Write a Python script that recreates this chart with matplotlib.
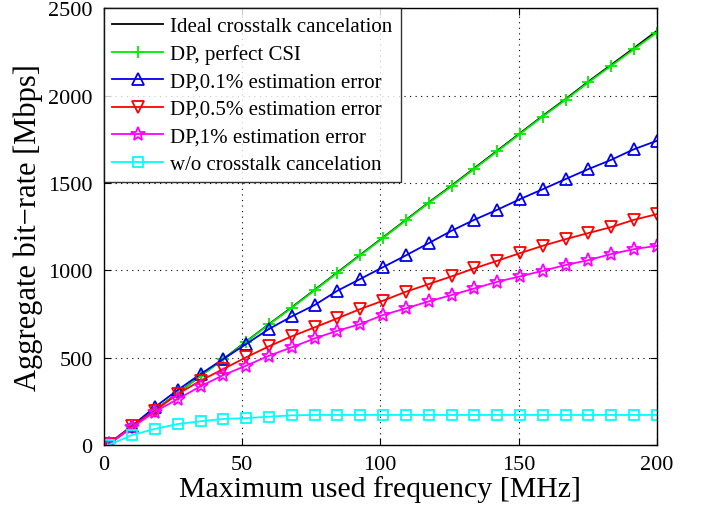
import matplotlib
matplotlib.use("Agg")
import matplotlib.pyplot as plt

freq = [2, 10.25, 18.5, 26.75, 35, 43.25, 51.5, 59.75, 68, 76.25, 84.5, 92.75,
        101, 109.25, 117.5, 125.75, 134, 142.25, 150.5, 158.75, 167, 175.25,
        183.5, 191.75, 200]

ideal = [10, 100, 200, 297, 396, 492, 592, 692, 788, 888, 988, 1088, 1188,
         1288, 1388, 1484, 1584, 1684, 1784, 1884, 1980, 2080, 2176, 2272, 2370]
perfect = [10, 100, 200, 295, 395, 490, 590, 690, 785, 885, 985, 1085, 1185,
           1285, 1385, 1480, 1580, 1680, 1780, 1880, 1975, 2075, 2170, 2265, 2360]
err01 = [10, 110, 217, 315, 406, 492, 578, 664, 736, 801, 883, 950, 1018,
         1085, 1155, 1226, 1289, 1346, 1407, 1464, 1522, 1579, 1632, 1693, 1741]
err05 = [5, 110, 196, 292, 368, 435, 502, 565, 622, 673, 725, 778, 826,
         877, 921, 965, 1011, 1054, 1098, 1140, 1178, 1213, 1247, 1289, 1321]
err1 = [5, 101, 190, 263, 336, 400, 454, 511, 559, 610, 654, 692, 744,
        782, 822, 858, 896, 934, 965, 997, 1030, 1058, 1093, 1121, 1140]
no_cancel = [2, 57, 92, 120, 136, 149, 154, 162, 170, 172, 172, 172, 172,
             172, 172, 172, 172, 172, 172, 172, 172, 172, 172, 172, 172]

plt.rcParams['font.family'] = ['Liberation Serif', 'DejaVu Serif']

fig = plt.figure(figsize=(7.01, 5.10), dpi=100)
ax = fig.add_axes([0.148, 0.1255, 0.789, 0.8565])

lw = 1.3
ax.plot(freq, ideal, color='black', lw=lw, label='Ideal crosstalk cancelation')
ax.plot(freq, perfect, color='#00ee00', lw=lw, marker='+', ms=9, mew=1.3,
        label='DP, perfect CSI')
ax.plot(freq, err01, color='#0000ee', lw=lw, marker='^', ms=8.5, mfc='none',
        mew=1.3, label='DP,0.1% estimation error')
ax.plot(freq, err05, color='#ff0000', lw=lw, marker='v', ms=8.5, mfc='none',
        mew=1.3, label='DP,0.5% estimation error')
ax.plot(freq, err1, color='#ff00ff', lw=lw, marker='*', ms=10, mfc='none',
        mew=1.3, label='DP,1% estimation error')
ax.plot(freq, no_cancel, color='#00ffff', lw=lw, marker='s', ms=6.5, mfc='none',
        mew=1.3, label='w/o crosstalk cancelation')

ax.set_xlim(0, 200)
ax.set_ylim(0, 2500)
ax.set_xticks([0, 50, 100, 150, 200])
ax.set_yticks([0, 500, 1000, 1500, 2000, 2500])
ax.tick_params(direction='in', labelsize=16, top=True, right=True, length=5)
ax.tick_params(axis='x', pad=7)
ax.tick_params(axis='y', pad=8)
ax.grid(True, linestyle=(0, (1, 4)), color='black', linewidth=0.8)
for s in ax.spines.values():
    s.set_linewidth(1.0)

ax.set_xlabel('Maximum used frequency [MHz]', fontsize=21.5, labelpad=1)
ax.set_ylabel('Aggregate bit\u2212rate [Mbps]', fontsize=22, labelpad=4)

leg = ax.legend(loc='upper left', fontsize=15, frameon=True, fancybox=False,
                edgecolor='black', borderaxespad=0, handlelength=2.45,
                handletextpad=0.35, labelspacing=0.38, borderpad=0.4)
leg.get_frame().set_linewidth(1.0)

fig.savefig('out.png', dpi=100)
